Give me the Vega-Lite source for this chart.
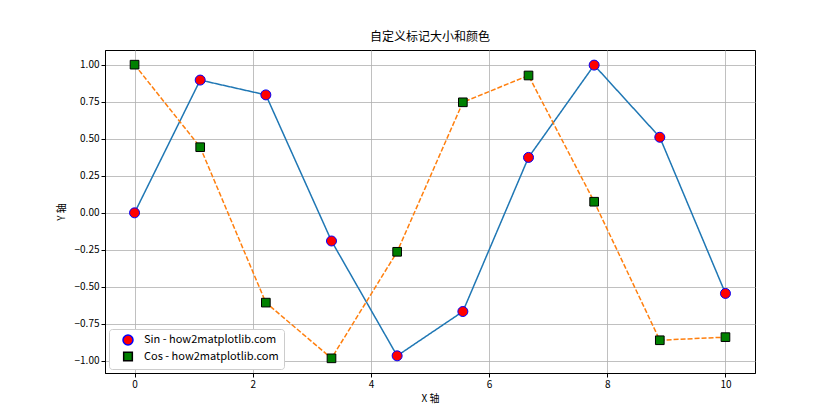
{
  "$schema": "https://vega.github.io/schema/vega-lite/v6.json",
  "width": 650,
  "height": 323,
  "autosize": "none",
  "padding": {"left": 105, "top": 50, "right": 85, "bottom": 47},
  "background": "white",
  "title": {"text": "自定义标记大小和颜色", "font": "Noto Sans CJK SC", "fontSize": 12, "fontWeight": "normal", "color": "black", "offset": 6},
  "config": {
    "font": "Noto Sans CJK SC",
    "view": {"stroke": "black", "strokeWidth": 1},
    "axis": {"labelFont": "Noto Sans CJK SC", "titleFont": "Noto Sans CJK SC", "labelFontSize": 10, "titleFontSize": 10, "titleFontWeight": "normal", "labelColor": "black", "titleColor": "black", "tickColor": "black", "domainColor": "black", "gridColor": "#b0b0b0", "gridWidth": 0.8, "tickSize": 4},
    "legend": {"orient": "bottom-left", "offset": 4, "labelFont": "Noto Sans CJK SC", "labelFontSize": 11, "labelColor": "black", "strokeColor": "#cccccc", "fillColor": "white", "padding": 5, "cornerRadius": 3, "rowPadding": 1, "symbolOffset": 8, "labelOffset": 10}
  },
  "data": {"values": [
    {"x": 0.0, "series": "Sin - how2matplotlib.com", "y": 0.0},
    {"x": 1.111, "series": "Sin - how2matplotlib.com", "y": 0.896},
    {"x": 2.222, "series": "Sin - how2matplotlib.com", "y": 0.796},
    {"x": 3.333, "series": "Sin - how2matplotlib.com", "y": -0.190},
    {"x": 4.444, "series": "Sin - how2matplotlib.com", "y": -0.965},
    {"x": 5.556, "series": "Sin - how2matplotlib.com", "y": -0.666},
    {"x": 6.667, "series": "Sin - how2matplotlib.com", "y": 0.374},
    {"x": 7.778, "series": "Sin - how2matplotlib.com", "y": 0.997},
    {"x": 8.889, "series": "Sin - how2matplotlib.com", "y": 0.510},
    {"x": 10.0, "series": "Sin - how2matplotlib.com", "y": -0.544},
    {"x": 0.0, "series": "Cos - how2matplotlib.com", "y": 1.0},
    {"x": 1.111, "series": "Cos - how2matplotlib.com", "y": 0.443},
    {"x": 2.222, "series": "Cos - how2matplotlib.com", "y": -0.606},
    {"x": 3.333, "series": "Cos - how2matplotlib.com", "y": -0.982},
    {"x": 4.444, "series": "Cos - how2matplotlib.com", "y": -0.263},
    {"x": 5.556, "series": "Cos - how2matplotlib.com", "y": 0.746},
    {"x": 6.667, "series": "Cos - how2matplotlib.com", "y": 0.927},
    {"x": 7.778, "series": "Cos - how2matplotlib.com", "y": 0.075},
    {"x": 8.889, "series": "Cos - how2matplotlib.com", "y": -0.860},
    {"x": 10.0, "series": "Cos - how2matplotlib.com", "y": -0.839}
  ]},
  "encoding": {
    "x": {"field": "x", "type": "quantitative", "scale": {"domain": [-0.5, 10.5], "nice": false, "zero": false}, "axis": {"values": [0, 2, 4, 6, 8, 10], "title": "X 轴", "format": "d", "titlePadding": 4}},
    "y": {"field": "y", "type": "quantitative", "scale": {"domain": [-1.081, 1.099], "nice": false, "zero": false}, "axis": {"values": [-1, -0.75, -0.5, -0.25, 0, 0.25, 0.5, 0.75, 1], "format": ".2f", "title": "Y 轴", "titlePadding": 8}}
  },
  "layer": [
    {
      "mark": {"type": "line", "strokeWidth": 1.5},
      "encoding": {
        "color": {"field": "series", "type": "nominal", "scale": {"range": ["#ff7f0e", "#1f77b4"]}, "legend": null},
        "strokeDash": {"field": "series", "type": "nominal", "scale": {"range": [[5, 2], [1, 0]]}, "legend": null}
      }
    },
    {
      "mark": {"type": "point", "filled": false, "opacity": 1, "strokeWidth": 1},
      "encoding": {
        "shape": {"field": "series", "type": "nominal", "scale": {"domain": ["Sin - how2matplotlib.com", "Cos - how2matplotlib.com"], "range": ["circle", "square"]}, "legend": {"title": null}},
        "fill": {"field": "series", "type": "nominal", "scale": {"domain": ["Sin - how2matplotlib.com", "Cos - how2matplotlib.com"], "range": ["#ff0000", "#008000"]}, "legend": {"title": null}},
        "stroke": {"field": "series", "type": "nominal", "scale": {"domain": ["Sin - how2matplotlib.com", "Cos - how2matplotlib.com"], "range": ["#0000ff", "#000000"]}, "legend": {"title": null}},
        "size": {"field": "series", "type": "nominal", "scale": {"domain": ["Sin - how2matplotlib.com", "Cos - how2matplotlib.com"], "range": [100, 75]}, "legend": {"title": null}}
      }
    }
  ]
}
